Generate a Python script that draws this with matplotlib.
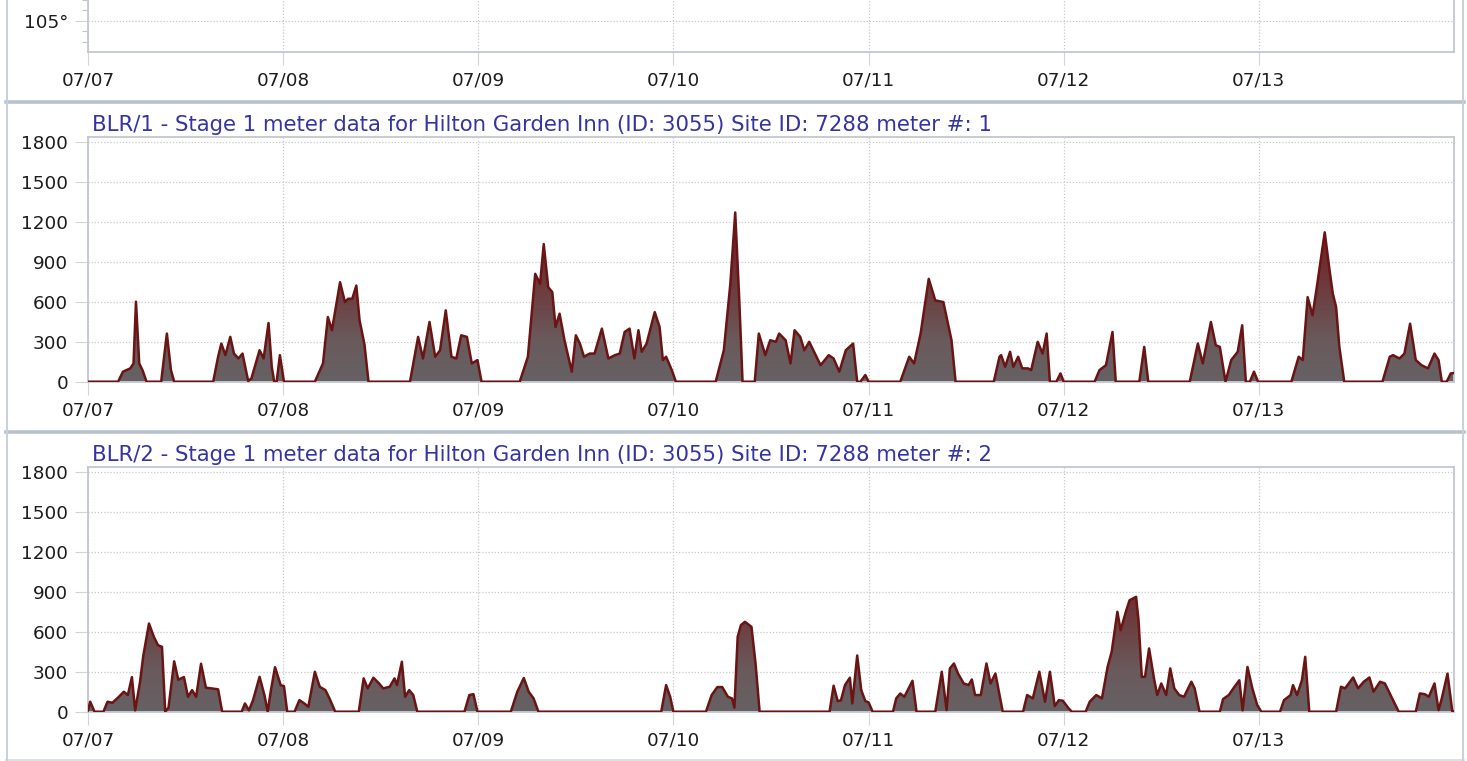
import numpy as np
import pandas as pd
import matplotlib
matplotlib.use('Agg')
import matplotlib.pyplot as plt
import matplotlib.dates as mdates
from matplotlib.colors import LinearSegmentedColormap
from matplotlib.lines import Line2D
from matplotlib.ticker import FixedLocator, FuncFormatter

# meter readings, hours after 07/07 00:00 and demand
start = pd.Timestamp('2015-07-07')
days = pd.date_range(start, periods=7, freq='D')

m1_hours = [0, 3.7, 4.3, 5.2, 5.6, 5.9, 6.3, 6.7, 7.2,
            9.0, 9.7, 10.2, 10.6,
            15.4, 16.0, 16.4, 16.9, 17.5, 17.95, 18.5, 19.0, 19.7, 20.1, 21.1, 21.6, 22.2, 22.6, 22.9,
            23.2, 23.6, 24.1,
            27.9, 28.9, 29.5, 30.0, 31.0, 31.6, 32.0, 32.5, 33.0, 33.4, 34.0, 34.5,
            39.6, 40.6, 41.2, 42.0, 42.7, 43.3, 44.0, 44.7, 45.3, 45.9, 46.6, 47.2, 47.9, 48.4,
            53.1, 54.1, 55.0, 55.6, 56.05, 56.6, 57.1, 57.5, 58.0, 58.6, 59.5, 60.0, 60.5, 61.0,
            61.7, 62.3, 63.2, 64.0, 64.8, 65.4, 66.0, 66.6, 67.2, 67.7, 68.1, 68.7, 69.7, 70.3,
            70.7, 71.1, 71.8, 72.3,
            77.2, 78.2, 79.0, 79.6, 80.1, 80.5,
            82.0, 82.5, 83.3, 83.9, 84.6, 85.0, 85.8, 86.4, 86.9, 87.6, 88.1, 88.7, 89.3, 90.1,
            91.1, 91.7, 92.4, 93.2, 94.1, 94.6, 95.0, 95.6, 96.0,
            99.9, 101.0, 101.6, 102.4, 103.4, 104.2, 105.2, 106.2, 106.7,
            111.4, 112.1, 112.3, 112.8, 113.4, 113.8, 114.4, 114.9, 115.6, 116.0, 116.8, 117.4,
            117.9, 118.3, 119.1, 119.6, 120.0,
            123.8, 124.4, 125.2, 126.0, 126.4,
            129.3, 129.9, 130.4,
            135.5, 136.5, 137.1, 138.1, 138.7, 139.2, 139.9, 140.6, 141.4, 141.95, 142.4,
            142.9, 143.4, 143.9,
            148.0, 148.9, 149.4, 150.0, 150.6, 151.1, 152.1, 152.7, 153.1, 153.5, 153.9, 154.5,
            159.2, 160.1, 160.5, 161.3, 161.9, 162.6, 163.3, 164.0, 164.8, 165.6, 166.1, 166.5,
            167.1, 167.6, 168.0]
m1_kw = [0, 0, 75, 100, 137, 600, 137, 87, 0,
         0, 361, 87, 0,
         0, 187, 286, 199, 336, 211, 174, 211, 5, 25, 236, 174, 440, 112, 0,
         0, 199, 0,
         0, 137, 485, 386, 746, 597, 622, 622, 721, 460, 280, 0,
         0, 336, 174, 448, 187, 236, 535, 187, 174, 348, 336, 137, 162, 0,
         0, 187, 809, 734, 1032, 709, 672, 410, 510, 311, 75, 348, 286, 187,
         211, 211, 398, 174, 199, 211, 373, 398, 174, 386, 224, 286, 522, 410,
         162, 187, 87, 0,
         0, 236, 734, 1269, 610, 0,
         0, 361, 199, 311, 299, 361, 311, 137, 386, 336, 236, 299, 224, 124,
         199, 174, 75, 236, 286, 0, 0, 50, 0,
         0, 187, 137, 361, 771, 610, 597, 311, 0,
         0, 187, 199, 112, 224, 112, 187, 100, 100, 87, 299, 211,
         361, 0, 0, 62, 0,
         0, 87, 124, 373, 0,
         0, 261, 0,
         0, 286, 137, 448, 274, 261, 0, 162, 224, 423, 0,
         0, 75, 0,
         0, 187, 162, 634, 498, 697, 1120, 833, 659, 560, 261, 0,
         0, 187, 199, 174, 211, 435, 162, 124, 100, 211, 162, 0,
         0, 62, 65]

m2_hours = [0, 0.27, 0.8, 1.9, 2.4, 3.0, 3.8, 4.4, 4.9, 5.4, 5.8, 6.4, 6.8, 7.5, 8.1, 8.6,
            9.1, 9.5, 9.9, 10.6, 11.1, 11.8, 12.3, 12.8, 13.3, 13.9, 14.5, 15.2, 16.0, 16.5,
            18.9, 19.3, 19.8, 20.3, 21.1, 21.7, 22.1, 22.5, 23.0, 23.7, 24.1, 24.5,
            25.4, 26.0, 26.6, 27.1, 27.9, 28.5, 29.2, 29.7, 30.4,
            33.3, 33.9, 34.4, 35.1, 35.8, 36.3, 37.1, 37.7, 38.0, 38.6, 39.0, 39.5, 40.0, 40.5,
            46.3, 46.9, 47.4, 47.9,
            52.0, 52.8, 53.6, 54.2, 54.8, 55.4,
            70.5, 71.1, 71.6, 72.0,
            76.0, 76.7, 77.4, 78.0, 78.7, 79.2, 79.5, 79.9, 80.3, 80.8, 81.6, 82.1, 82.6,
            91.2, 91.7, 92.2, 92.6, 93.1, 93.7, 94.0, 94.6, 95.1, 95.6, 96.0, 96.5,
            99.0, 99.4, 99.9, 100.4, 101.4, 101.9,
            104.2, 105.0, 105.6, 106.0, 106.5, 107.0, 107.7, 108.3, 108.7, 109.1, 109.8, 110.5,
            111.0, 111.6, 112.5,
            115.0, 115.5, 116.2, 117.0, 117.7, 118.3, 118.9, 119.4, 119.9, 120.6, 121.0,
            122.7, 123.2, 124.0, 124.7, 125.4, 125.9, 126.6, 127.0, 127.7, 128.1, 128.9, 129.2,
            129.6, 130.0, 130.5, 131.1, 131.5, 132.0, 132.6, 133.1, 133.6, 134.2, 134.8, 135.7,
            136.1, 136.7,
            139.2, 139.6, 140.3, 141.0, 141.6, 142.0, 142.6, 143.2, 143.8, 144.3,
            146.6, 147.1, 147.9, 148.2, 148.7, 149.3, 149.7, 150.2,
            153.5, 154.1, 154.6, 155.6, 156.2, 156.9, 157.6, 158.1, 158.9, 159.5, 161.2,
            163.3, 163.8, 164.4, 164.9, 165.6, 166.1, 166.5, 167.2, 167.8, 168.0]
m2_kw = [10, 75, 0, 0, 75, 67, 112, 150, 125, 260, 10, 224, 420, 662, 562, 500,
         487, 0, 30, 378, 240, 260, 112, 162, 112, 360, 180, 175, 168, 0,
         0, 62, 10, 87, 262, 124, 0, 162, 334, 199, 192, 0,
         0, 87, 62, 37, 300, 187, 162, 100, 0,
         0, 250, 175, 255, 212, 175, 187, 250, 200, 375, 112, 162, 125, 0,
         0, 125, 132, 0,
         0, 150, 253, 150, 100, 0,
         0, 200, 112, 0,
         0, 125, 185, 185, 112, 100, 30, 562, 650, 675, 637, 362, 0,
         0, 195, 80, 85, 200, 255, 62, 422, 162, 80, 70, 0,
         0, 100, 137, 112, 232, 0,
         0, 300, 12, 325, 362, 287, 212, 200, 242, 125, 125, 362,
         212, 287, 0,
         0, 125, 100, 300, 75, 300, 42, 87, 82, 25, 0,
         0, 75, 125, 100, 337, 450, 750, 612, 762, 837, 862, 687,
         262, 262, 475, 250, 125, 212, 125, 325, 175, 125, 112, 225,
         175, 0,
         0, 95, 125, 187, 236, 10, 336, 175, 50, 0,
         0, 87, 125, 200, 125, 237, 412, 0,
         0, 187, 175, 257, 175, 225, 257, 150, 225, 212, 0,
         0, 137, 132, 112, 212, 12, 100, 286, 0, 0]

titles = ['BLR/1 - Stage 1 meter data for Hilton Garden Inn (ID: 3055) Site ID: 7288 meter #: 1',
          'BLR/2 - Stage 1 meter data for Hilton Garden Inn (ID: 3055) Site ID: 7288 meter #: 2']
kw_ticks = [0, 300, 600, 900, 1200, 1500, 1800]

W, H = 1467, 761
fig = plt.figure(figsize=(W / 100, H / 100), dpi=100)
fig.patch.set_facecolor('white')
plt.rcParams['font.family'] = 'DejaVu Sans'

grid_c = '#c9c9c9'
spine_c = '#c3c8d0'
tick_c = '#1c1c1c'
line_c = '#6b1414'
fill_cmap = LinearSegmentedColormap.from_list(
    'fill', [(0, '#666164'), (0.17, '#6a5a5c'), (0.35, '#6d4042'), (0.6, '#6d2222'), (1, '#5c1010')])

x0 = mdates.date2num(start)
x1 = mdates.date2num(start + pd.Timedelta(days=7))


def px_axes(left, top, right, bottom):
    return fig.add_axes([left / W, 1 - bottom / H, (right - left) / W, (bottom - top) / H])


def style(ax):
    ax.set_facecolor('white')
    ax.set_xlim(x0, x1)
    ax.set_xticks(mdates.date2num(days))
    ax.xaxis.set_major_formatter(mdates.DateFormatter('%m/%d'))
    ax.grid(True, color=grid_c, linestyle=(0, (1, 1.5)), linewidth=0.9)
    ax.set_axisbelow(True)
    ax.tick_params(axis='both', which='major', length=9.4, width=0.8, color='#d4d4d4',
                   labelsize=13.2, labelcolor=tick_c, pad=5)
    for s in ax.spines.values():
        s.set_color(spine_c)
        s.set_linewidth(1.3)


# top panel (temperature, cut off)
ax0 = px_axes(88, -60, 1454, 51.7)
style(ax0)
ax0.set_ylim(102.05, 112.69)
ax0.yaxis.set_major_locator(FixedLocator([105]))
ax0.yaxis.set_minor_locator(FixedLocator([103, 104, 106, 107]))
ax0.yaxis.set_major_formatter(FuncFormatter(lambda v, p: '%d°' % v))
ax0.tick_params(axis='y', which='minor', length=4.5, width=0.8, color='#c4c4c4')
ax0.spines['top'].set_visible(False)


def meter_panel(top, bottom, hours, kw, title):
    ax = px_axes(88, top, 1454, bottom)
    style(ax)
    x = mdates.date2num(start + pd.to_timedelta(hours, unit='h'))
    y = np.array(kw, dtype=float)
    poly = ax.fill_between(x, 0, y, facecolor='none', edgecolor='none')
    ymax = 1835
    grad = ax.imshow(np.linspace(0, 1, 256).reshape(-1, 1), cmap=fill_cmap, aspect='auto',
                     origin='lower', extent=[x0, x1, 0, ymax], zorder=2, interpolation='bilinear')
    grad.set_clip_path(poly.get_paths()[0], transform=ax.transData)
    ax.plot(x, y, color=line_c, linewidth=1.8, zorder=3, solid_joinstyle='round')
    ax.set_xlim(x0, x1)
    ax.set_ylim(0, ymax)
    ax.set_yticks(kw_ticks)
    ax.annotate(title, xy=(0, 1), xycoords='axes fraction', xytext=(4, 6),
                textcoords='offset pixels', va='baseline', ha='left',
                fontsize=15.3, color='#3434a4')
    return ax


meter_panel(137, 381.7, m1_hours, m1_kw, titles[0])
meter_panel(467.3, 711.7, m2_hours, m2_kw, titles[1])

# panel frames
frame_c = '#b8c2ce'
for yy in [101.5, 431.5]:
    fig.add_artist(Line2D([6 / W, 1464 / W], [1 - yy / H] * 2, color=frame_c, linewidth=2.6))
fig.add_artist(Line2D([6 / W, 1464 / W], [1 - 759.5 / H] * 2, color='#d6dce3', linewidth=1.2))
for xx in [7, 1463]:
    fig.add_artist(Line2D([xx / W] * 2, [0, 1], color='#c8d0da', linewidth=1.4))

fig.savefig('out.png', dpi=100, facecolor='white')
